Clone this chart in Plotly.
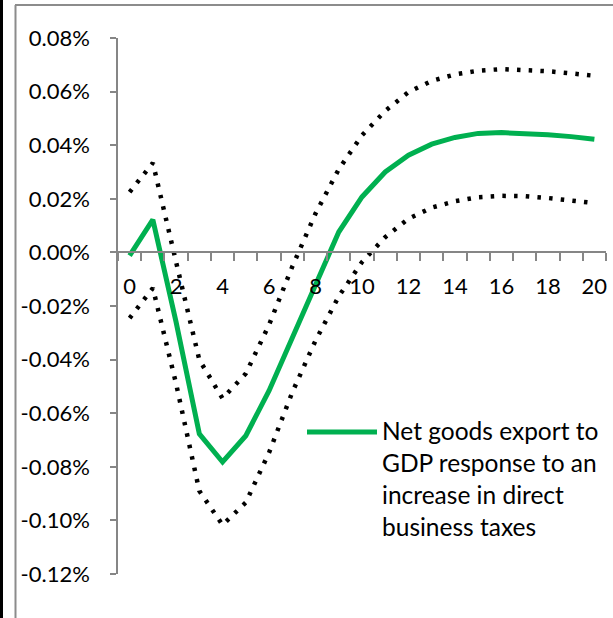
import plotly.graph_objects as go

# Horizon (periods) and impulse responses, in percent of GDP
periods = list(range(21))
response = [-0.0012, 0.0122, -0.0260, -0.0677, -0.0782, -0.0684, -0.0516, -0.0318, -0.0122, 0.0076,
            0.0207, 0.0300, 0.0363, 0.0404, 0.0429, 0.0444, 0.0447, 0.0445, 0.0439, 0.0432, 0.0422]
upper_band = [0.0225, 0.0334, -0.0036, -0.0401, -0.0545, -0.0452, -0.0270, -0.0053, 0.0145, 0.0310,
              0.0437, 0.0528, 0.0598, 0.0640, 0.0664, 0.0678, 0.0684, 0.0682, 0.0676, 0.0668, 0.0659]
lower_band = [-0.0245, -0.0133, -0.0490, -0.0890, -0.1017, -0.0933, -0.0747, -0.0522, -0.0329, -0.0164,
              -0.0036, 0.0057, 0.0126, 0.0167, 0.0191, 0.0206, 0.0211, 0.0210, 0.0203, 0.0194, 0.0184]

y_tick_values = [0.08, 0.06, 0.04, 0.02, 0.00, -0.02, -0.04, -0.06, -0.08, -0.10, -0.12]
y_tick_labels = ["0.08%", "0.06%", "0.04%", "0.02%", "0.00%", "-0.02%", "-0.04%",
                 "-0.06%", "-0.08%", "-0.10%", "-0.12%"]
x_tick_values = list(range(0, 21, 2))
x_tick_labels = [str(v) for v in x_tick_values]
legend_label = "Net goods export to<br>GDP response to an<br>increase in direct<br>business taxes"

W, H = 613, 618
ML, MR, MT, MB = 118, 7, 38, 44
PW, PH = W - ML - MR, H - MT - MB

FONT = "Lato, Calibri, sans-serif"
GREEN = "#00B050"
AXIS_GREY = "#868686"
FRAME_GREY = "#8C8C8C"


def px_x(px):
    return (px - ML) / PW


def px_y(py):
    return (MT + PH - py) / PH


fig = go.Figure()
for band in (upper_band, lower_band):
    fig.add_trace(go.Scatter(
        x=periods, y=band, mode="lines", showlegend=False,
        line=dict(color="black", width=4.5, dash="3.5px,8.2px"),
    ))
fig.add_trace(go.Scatter(
    x=periods, y=response, mode="lines", showlegend=False,
    line=dict(color=GREEN, width=5),
))

y_min, y_max = -0.12, 0.08
zero_pos = (0 - y_min) / (y_max - y_min)

fig.update_layout(
    width=W, height=H,
    margin=dict(l=ML, r=MR, t=MT, b=MB),
    paper_bgcolor="white", plot_bgcolor="white",
    showlegend=False,
    font=dict(family=FONT, color="black"),
    xaxis=dict(
        range=[-0.5, 20.5], anchor="free", position=zero_pos,
        tickvals=x_tick_values, ticktext=x_tick_labels, ticks="",
        minor=dict(ticks="outside", tick0=0.5, dtick=1, ticklen=8,
                   tickcolor=AXIS_GREY, tickwidth=1.5),
        showline=True, linecolor=AXIS_GREY, linewidth=1.5,
        showgrid=False, zeroline=False,
        tickfont=dict(size=22, family=FONT, color="black"),
        ticklabelstandoff=14,
    ),
    yaxis=dict(
        range=[y_min, y_max],
        tickvals=y_tick_values, ticktext=y_tick_labels,
        ticks="outside", ticklen=6, tickcolor=AXIS_GREY, tickwidth=1.5,
        showline=True, linecolor=AXIS_GREY, linewidth=1.5,
        showgrid=False, zeroline=False,
        tickfont=dict(size=22, family=FONT, color="black"),
        ticklabelstandoff=16,
    ),
)

# Legend key drawn as a line sample plus wrapped caption
fig.add_shape(type="line", xref="paper", yref="paper",
              x0=px_x(307), x1=px_x(377), y0=px_y(432), y1=px_y(432),
              line=dict(color=GREEN, width=5))
fig.add_annotation(xref="paper", yref="paper", x=px_x(380), y=px_y(414),
                   xanchor="left", yanchor="top", align="left", showarrow=False,
                   text=legend_label, font=dict(size=24.5, family=FONT, color="black"))

# Chart-area frame and outer edge
fig.add_shape(type="rect", xref="paper", yref="paper",
              x0=px_x(0), x1=px_x(3), y0=px_y(H), y1=px_y(0),
              fillcolor="black", line=dict(width=0), layer="above")
fig.add_shape(type="line", xref="paper", yref="paper",
              x0=px_x(15.5), x1=px_x(15.5), y0=px_y(H), y1=px_y(5),
              line=dict(color=FRAME_GREY, width=2))
fig.add_shape(type="line", xref="paper", yref="paper",
              x0=px_x(15), x1=px_x(W), y0=px_y(5), y1=px_y(5),
              line=dict(color=FRAME_GREY, width=2))

fig.write_html("out.html")
